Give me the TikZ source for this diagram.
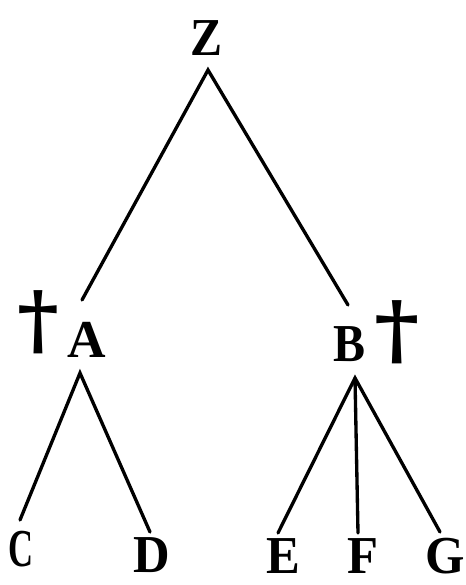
\documentclass[tikz,border=0pt]{standalone}
\usepackage{fontspec}
\setmainfont{Liberation Serif}
\newfontfamily\dagfont{DejaVu Serif}
\begin{document}
\begin{tikzpicture}[x=0.75pt,y=-0.75pt,
  lbl/.style={inner sep=0pt,font=\fontsize{40}{40}\selectfont\bfseries},
  dag/.style={inner sep=0pt,font=\fontsize{50}{50}\selectfont\dagfont\bfseries},
  edge/.style={line width=2.5pt,line cap=round}]
\useasboundingbox (0,0) rectangle (466,585);
\node[lbl] (Z) at (207,38) {\scalebox{0.9}[1]{Z}};
\node[lbl] (A) at (87,340) {A};
\node[lbl] (B) at (350,344) {\scalebox{0.9}[1]{B}};
\node[dag] (dA) at (38,322) {\scalebox{1.2}[1.15]{†}};
\node[dag] (dB) at (397,332) {\scalebox{1.3}[1.15]{†}};
\node[lbl] (C) at (21,549) {\scalebox{0.65}[1]{C}};
\node[lbl] (D) at (152,555) {\scalebox{0.95}[1]{D}};
\node[lbl] (E) at (283,556) {\scalebox{0.95}[1]{E}};
\node[lbl] (F) at (363,556) {\scalebox{0.95}[1]{F}};
\node[lbl] (G) at (445,556) {\scalebox{0.95}[1]{G}};
\coordinate (zt) at (208,70);
\coordinate (za) at (82,300);
\coordinate (zb) at (348,305);
\coordinate (at) at (80,373);
\coordinate (ac) at (20,520);
\coordinate (ad) at (150,532);
\coordinate (bt) at (355,378);
\coordinate (be) at (278,533);
\coordinate (bf) at (358,533);
\coordinate (bg) at (440,532);
\draw[edge] (za) -- (zt) -- (zb);
\draw[edge] (ac) -- (at) -- (ad);
\draw[edge] (be) -- (bt) -- (bg);
\draw[edge] (bt) -- (bf);
\end{tikzpicture}
\end{document}
